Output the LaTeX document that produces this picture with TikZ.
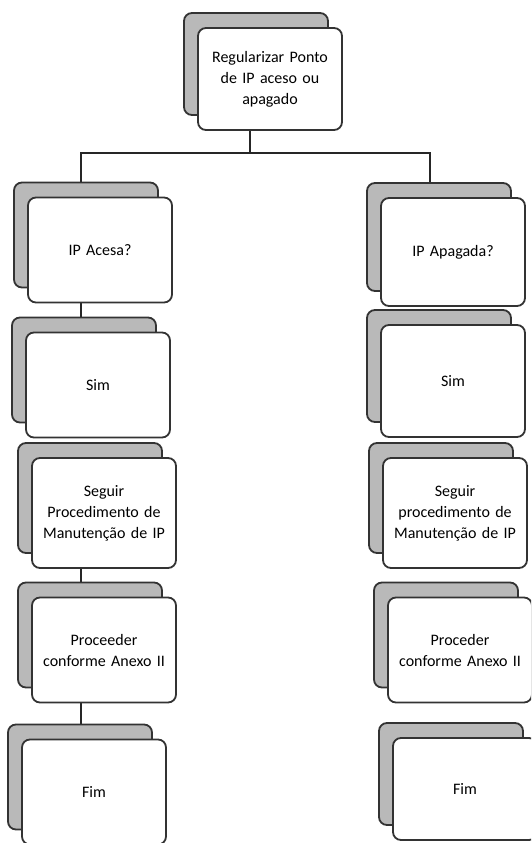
\documentclass[tikz,border=0pt]{standalone}
\usepackage{fontspec}
\setmainfont{Carlito}
\usetikzlibrary{shadows,backgrounds}

\tikzset{
  folder/.style={draw=black!80, line width=1.8pt, fill=white, rounded corners=8pt,
    minimum width=144pt, minimum height=105pt, inner sep=2pt, text width=138pt,
    align=center, font=\fontsize{16}{21}\selectfont,
    copy shadow={shadow xshift=-14pt, shadow yshift=15pt, fill=gray!55,
      draw=black!80, line width=1.8pt}},
  link/.style={draw=black!85, line width=2.4pt}
}

\begin{document}
\begin{tikzpicture}[x=1pt,y=-1pt]
  \useasboundingbox (0,0) rectangle (531,843);
  \clip (0,0) rectangle (531,843);

  \node[folder, minimum height=102pt] (reg) at (270,79) {Regularizar Ponto\\de IP aceso ou\\apagado};

  \node[folder] (acesa) at (100,250) {IP Acesa?};
  \node[folder] (simA) at (98,385) {Sim};
  \node[folder, minimum height=110pt] (seguirA) at (104,513) {Seguir\\Procedimento de\\Manutenção de IP};
  \node[folder] (procA) at (104,650) {Proceeder\\conforme Anexo II};
  \node[folder] (fimA) at (94,792) {Fim};

  \node[folder, minimum height=108pt] (apagada) at (453,252) {IP Apagada?};
  \node[folder, minimum height=112pt] (simB) at (453,381) {Sim};
  \node[folder, minimum height=110pt] (seguirB) at (455,513) {Seguir\\procedimento de\\Manutenção de IP};
  \node[folder] (procB) at (460,650) {Proceder\\conforme Anexo II};
  \node[folder, minimum height=102pt] (fimB) at (465,789) {Fim};

  \coordinate (jt) at (250,153);
  \coordinate (jl) at (81,153);
  \coordinate (jr) at (430,153);

  \begin{pgfonlayer}{background}
    \draw[link] (reg.south -| jt) -- (jt);
    \draw[link] (acesa.north -| jl) -- (jl) -- (jr) -- (apagada.north -| jr);
    \draw[link] (acesa.south -| jl) -- (simA.north -| jl);
    \draw[link] (seguirA.south -| jl) -- (procA.north -| jl);
    \draw[link] (procA.south -| jl) -- (fimA.north -| jl);
  \end{pgfonlayer}
\end{tikzpicture}
\end{document}
